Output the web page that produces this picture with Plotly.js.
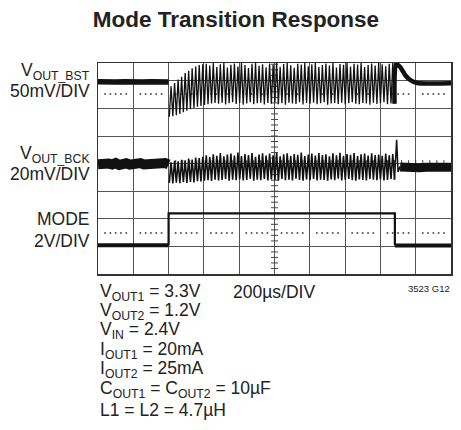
<!DOCTYPE html>
<html><head><meta charset="utf-8">
<script src="https://cdn.plot.ly/plotly-3.0.1.min.js"></script>
<style>html,body{margin:0;padding:0;background:#fff}#chart{width:461px;height:430px}</style>
</head><body><div id="chart"></div>
<script>
// Time axis in scope divisions (200µs/DIV); amplitudes in screen divisions (0 = bottom graticule)
const bstPreT = [0, 0.25, 0.5, 0.75, 1.0, 1.25, 1.5, 1.75, 2.0];
const bstPreV = [6.97, 6.95, 6.96, 6.97, 6.95, 6.96, 6.97, 6.95, 6.96];
const bstPeaks = [
  6.80, 6.92, 7.05, 7.15, 7.28, 7.36, 7.45, 7.52, 7.57, 7.60,
  7.62, 7.55, 7.64, 7.50, 7.60, 7.64, 7.48, 7.58, 7.63, 7.52,
  7.64, 7.57, 7.46, 7.62, 7.64, 7.54, 7.60, 7.49, 7.63, 7.58,
  7.64, 7.51, 7.61, 7.64, 7.56, 7.47, 7.62, 7.59, 7.64, 7.53,
  7.60, 7.64, 7.50, 7.57, 7.63, 7.55, 7.64, 7.48, 7.61, 7.58,
  7.64, 7.52, 7.62, 7.59, 7.64, 7.50, 7.57, 7.63, 7.55, 7.64,
  7.60, 7.53, 7.62, 7.64];
const bstTroughs = [
  5.70, 5.72, 5.75, 5.80, 5.86, 5.92, 5.97, 6.02, 6.06, 6.09,
  6.12, 6.15, 6.18, 6.20, 6.17, 6.21, 6.14, 6.19, 6.22, 6.16,
  6.20, 6.13, 6.18, 6.22, 6.15, 6.19, 6.21, 6.14, 6.20, 6.17,
  6.22, 6.15, 6.19, 6.13, 6.21, 6.18, 6.16, 6.22, 6.14, 6.20,
  6.17, 6.21, 6.15, 6.19, 6.22, 6.13, 6.18, 6.20, 6.16, 6.21,
  6.14, 6.19, 6.22, 6.17, 6.15, 6.20, 6.18, 6.13, 6.21, 6.16,
  6.19, 6.22, 6.15, 6.18, 6.17];
const bstPostT = [8.40, 8.44, 8.56, 8.70, 8.84, 9.04, 9.5, 10];
const bstPostV = [6.17, 7.60, 7.50, 7.21, 7.03, 6.92, 6.90, 6.91];

const bckPreT = [0,0.1,0.2,0.3,0.4,0.5,0.6,0.7,0.8,0.9,1.0,1.1,1.2,1.3,1.4,1.5,1.6,1.7,1.8,1.9,2.0];
const bckPreV = [3.98,4.01,3.96,4.00,3.97,4.02,3.95,3.99,4.01,3.96,4.00,3.98,4.02,3.97,3.99,4.01,3.95,4.00,3.98,4.02,3.97];
const bckPeaks = [
  4.05, 4.10, 4.08, 4.14, 4.12, 4.18, 4.15, 4.22, 4.20, 4.25,
  4.30, 4.24, 4.34, 4.28, 4.38, 4.26, 4.33, 4.36, 4.29, 4.40,
  4.27, 4.35, 4.31, 4.38, 4.25, 4.33, 4.37, 4.29, 4.36, 4.30,
  4.39, 4.26, 4.34, 4.37, 4.28, 4.35, 4.32, 4.40, 4.27, 4.33,
  4.36, 4.29, 4.38, 4.31, 4.34, 4.26, 4.37, 4.30, 4.39, 4.28,
  4.35, 4.32, 4.38, 4.27, 4.34, 4.36, 4.29, 4.37, 4.31, 4.33,
  4.28, 4.36, 4.30, 4.35];
const bckTroughs = [
  3.30, 3.28, 3.31, 3.29, 3.33, 3.30, 3.34, 3.32, 3.36, 3.35,
  3.38, 3.40, 3.37, 3.42, 3.39, 3.41, 3.44, 3.38, 3.42, 3.40,
  3.43, 3.39, 3.41, 3.45, 3.38, 3.42, 3.40, 3.44, 3.39, 3.43,
  3.41, 3.38, 3.44, 3.40, 3.42, 3.39, 3.45, 3.41, 3.38, 3.43,
  3.40, 3.44, 3.39, 3.42, 3.41, 3.38, 3.43, 3.40, 3.45, 3.39,
  3.42, 3.44, 3.40, 3.38, 3.43, 3.41, 3.39, 3.44, 3.42, 3.40,
  3.43, 3.39, 3.41, 3.44, 3.42];
const bckSpikeT = [8.40, 8.46, 8.50, 8.56];
const bckSpikeV = [3.42, 4.86, 3.70, 3.90];
const bckPostT = [8.56, 8.7, 8.9, 9.1, 9.3, 9.5, 9.7, 9.9, 10.0];
const bckPostV = [3.88, 3.86, 3.89, 3.85, 3.87, 3.86, 3.89, 3.85, 3.87];

const modeLowPreT = [0, 2.0];
const modeLowPreV = [1.04, 1.04];
const modeHighT = [2.0, 2.0, 8.41, 8.41];
const modeHighV = [1.04, 2.20, 2.20, 1.03];
const modeLowPostT = [8.41, 10];
const modeLowPostV = [1.03, 1.03];

const oscStart = 2.02, oscEnd = 8.40;   // switching burst window (div)
const dotLevels = [6.52, 1.49];
const dotFrac = [0.2, 0.35, 0.5, 0.65, 0.8];

function interleave(troughs, peaks) {
  const n = troughs.length + peaks.length;
  const half = (oscEnd - oscStart) / (n - 1);
  const x = [], y = [];
  for (let j = 0; j < n; j++) {
    x.push(oscStart + j * half);
    y.push(j % 2 === 0 ? troughs[j / 2] : peaks[(j - 1) / 2]);
  }
  return {x, y};
}
const bstOsc = interleave(bstTroughs, bstPeaks);
const bckOsc = interleave(bckTroughs, bckPeaks);

// graticule decorations
const dx = [], dy = [];
dotLevels.forEach(l => { for (let k = 0; k < 10; k++) dotFrac.forEach(f => { dx.push(k + f); dy.push(l); }); });
const tvx = [], tvy = [], thx = [], thy = [];
for (let i = 1; i < 39; i++) { tvx.push(5); tvy.push(i * 0.2); }
for (let i = 1; i < 50; i++) { thx.push(i * 0.2); thy.push(4); }

const ink = '#111';
const traces = [
  {x: dx, y: dy, mode: 'markers', marker: {size: 2, color: '#555'}, hoverinfo: 'skip'},
  {x: tvx, y: tvy, mode: 'markers', marker: {symbol: 'line-ew', size: 5, line: {width: 1, color: '#444'}}, hoverinfo: 'skip'},
  {x: thx, y: thy, mode: 'markers', marker: {symbol: 'line-ns', size: 5, line: {width: 1, color: '#444'}}, hoverinfo: 'skip'},
  {x: modeLowPreT, y: modeLowPreV, mode: 'lines', line: {color: ink, width: 4}},
  {x: modeHighT, y: modeHighV, mode: 'lines', line: {color: ink, width: 2.2}},
  {x: modeLowPostT, y: modeLowPostV, mode: 'lines', line: {color: ink, width: 4}},
  {x: bckPreT, y: bckPreV, mode: 'lines', line: {color: ink, width: 10}},
  {x: bckOsc.x, y: bckOsc.y, mode: 'lines', line: {color: ink, width: 1.6}},
  {x: bckSpikeT, y: bckSpikeV, mode: 'lines', line: {color: ink, width: 1.5}},
  {x: bckPostT, y: bckPostV, mode: 'lines', line: {color: ink, width: 9}},
  {x: bstPreT, y: bstPreV, mode: 'lines', line: {color: ink, width: 5.5}},
  {x: bstOsc.x, y: bstOsc.y, mode: 'lines', line: {color: ink, width: 1.3}},
  {x: bstPostT, y: bstPostV, mode: 'lines', line: {color: ink, width: 4.5, shape: 'spline', smoothing: 0.6}}
];

const W = 461, H = 430, L = 98, R = 451, TOP = 63, BOT = 274;
const px = x => (x - L) / (R - L);
const py = y => (BOT - y) / (BOT - TOP);
const face = '"Liberation Sans", Arial, Helvetica, sans-serif';
const txt = '#222';
const FS = 17.5;
function ann(text, x, baseline, xanchor, size) {
  return {text, x: px(x), y: py(baseline - 0.34 * size), xref: 'paper', yref: 'paper',
    xanchor, yanchor: 'middle', showarrow: false, borderpad: 0,
    font: {family: face, size, color: txt}};
}
const annotations = [
  ann('V<sub>OUT_BST</sub>', 91, 77, 'right', FS),
  ann('50mV/DIV', 91, 97, 'right', FS),
  ann('V<sub>OUT_BCK</sub>', 91, 160, 'right', FS),
  ann('20mV/DIV', 91, 180, 'right', FS),
  ann('MODE', 91, 225, 'right', FS),
  ann('2V/DIV', 91, 247, 'right', FS),
  ann('V<sub>OUT1</sub> = 3.3V', 99, 298, 'left', FS),
  ann('200µs/DIV', 232, 298, 'left', FS),
  ann('3523 G12', 451, 292, 'right', 9.5),
  ann('V<sub>OUT2</sub> = 1.2V', 99, 317, 'left', FS),
  ann('V<sub>IN</sub> = 2.4V', 99, 336, 'left', FS),
  ann('I<sub>OUT1</sub> = 20mA', 99, 356, 'left', FS),
  ann('I<sub>OUT2</sub> = 25mA', 99, 375, 'left', FS),
  ann('C<sub>OUT1</sub> = C<sub>OUT2</sub> = 10µF', 99, 395, 'left', FS),
  ann('L1 = L2 = 4.7µH', 99, 416, 'left', FS)
];

const axisCommon = {showgrid: true, gridcolor: '#555', gridwidth: 1, zeroline: false,
  showline: true, mirror: true, linecolor: '#333', linewidth: 1.5,
  showticklabels: false, ticks: '', dtick: 1, tick0: 0, fixedrange: true};
const layout = {
  width: W, height: H, showlegend: false,
  margin: {l: L, r: W - R, t: TOP, b: H - BOT, pad: 0},
  paper_bgcolor: '#fff', plot_bgcolor: '#fff',
  title: {text: '<b>Mode Transition Response</b>', x: 236 / W, xref: 'container', xanchor: 'center',
    y: 1 - 19 / H, yref: 'container', yanchor: 'middle',
    font: {family: face, size: 22.5, color: txt}},
  xaxis: Object.assign({range: [0, 10]}, axisCommon),
  yaxis: Object.assign({range: [0, (BOT - TOP) / 27.6]}, axisCommon),
  annotations
};
Plotly.newPlot('chart', traces, layout, {displayModeBar: false, staticPlot: true});
</script></body></html>
